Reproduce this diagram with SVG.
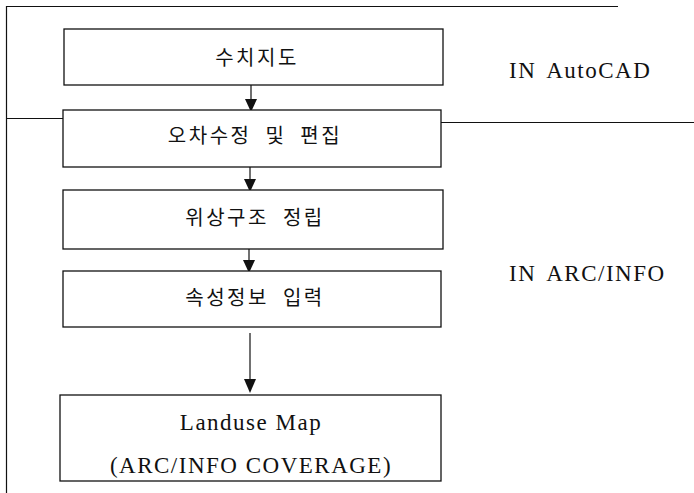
<svg xmlns="http://www.w3.org/2000/svg" width="694" height="493" viewBox="0 0 694 493">
<style>
.box{fill:#fff;stroke:#111;stroke-width:1.3}
.ln{stroke:#111;stroke-width:1.2;fill:none}
.ko{font-family:"Noto Sans CJK KR","Noto Sans",sans-serif;font-size:20px;letter-spacing:2.5px;word-spacing:7px;fill:#111;text-anchor:middle}
.en{font-family:"Liberation Serif","Times New Roman",serif;font-size:23px;letter-spacing:1.5px;fill:#111;text-anchor:middle}
.lb{font-family:"Liberation Serif","Times New Roman",serif;font-size:23px;letter-spacing:1.5px;word-spacing:4px;fill:#111}
.ah{fill:#111}
</style>
<g id="frame">
<path class="ln" d="M6.5,6 V493"/>
<path class="ln" d="M6.5,6.5 H618"/>
<path class="ln" d="M6.5,118.5 H63"/>
<path class="ln" d="M441,122.5 H694"/>
</g>
<g id="connectors">
<path class="ln" d="M251,85 V99"/>
<path class="ah" d="M245,99 L257,99 L251,112 Z"/>
<path class="ln" d="M250,167 V179"/>
<path class="ah" d="M244,179 L256,179 L250,192 Z"/>
<path class="ln" d="M249,249 V260"/>
<path class="ah" d="M243,260 L255,260 L249,273 Z"/>
<path class="ln" d="M250,333 V379"/>
<path class="ah" d="M244,379 L256,379 L250,393 Z"/>
</g>
<g id="n1"><rect class="box" x="64" y="29" width="379" height="56"/><text class="ko" x="257" y="65">수치지도</text></g>
<g id="n2"><rect class="box" x="63" y="110" width="378" height="57"/><text class="ko" x="255" y="143">오차수정 및 편집</text></g>
<g id="n3"><rect class="box" x="63" y="190" width="380" height="59"/><text class="ko" x="255" y="225">위상구조 정립</text></g>
<g id="n4"><rect class="box" x="63" y="271" width="378" height="56"/><text class="ko" x="255" y="305">속성정보 입력</text></g>
<g id="n5"><rect class="box" x="60" y="395" width="381" height="86"/><text class="en" x="251" y="430">Landuse Map</text><text class="en" x="251" y="473">(ARC/INFO COVERAGE)</text></g>
<g id="lbl1"><text class="lb" x="509" y="78">IN AutoCAD</text></g>
<g id="lbl2"><text class="lb" x="509" y="281">IN ARC/INFO</text></g>
</svg>
